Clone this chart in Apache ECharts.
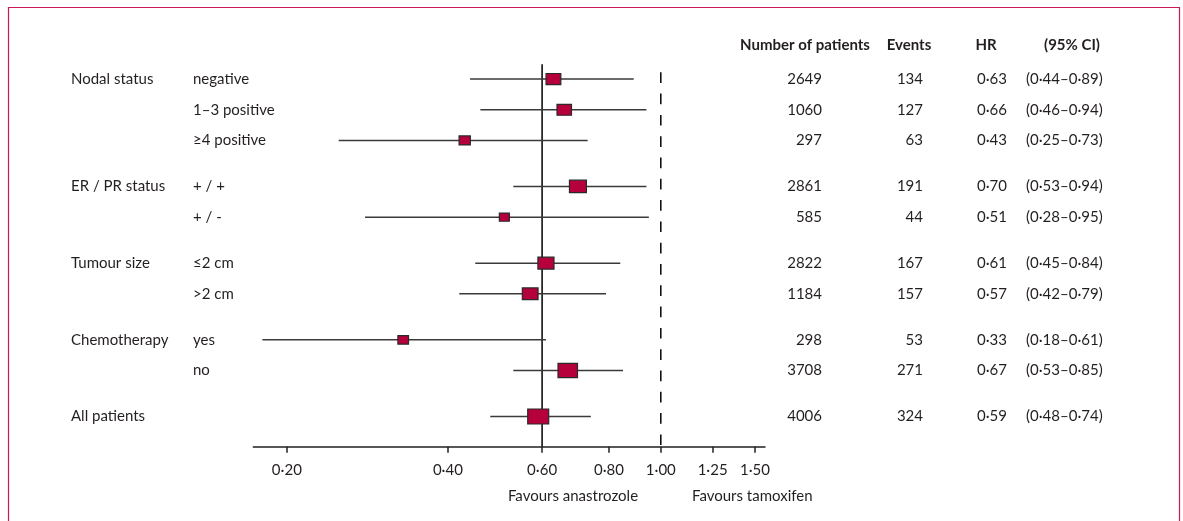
<!DOCTYPE html>
<html>
<head>
<meta charset="utf-8">
<script src="https://cdn.jsdelivr.net/npm/echarts@6/dist/echarts.min.js"></script>
<style>
html,body{margin:0;padding:0;background:#fff;}
#chart{width:1183px;height:521px;}
</style>
</head>
<body>
<div id="chart"></div>
<script>
// ---------- data ----------
const groupNames = ['Nodal status', 'ER / PR status', 'Tumour size', 'Chemotherapy', 'All patients'];
const rowGroup   = [0, 0, 0, 1, 1, 2, 2, 3, 3, 4];
const subgroups  = ['negative', '1–3 positive', '≥4 positive', '+ / +', '+ / -', '≤2 cm', '>2 cm', 'yes', 'no', ''];
const patients   = [2649, 1060, 297, 2861, 585, 2822, 1184, 298, 3708, 4006];
const events     = [134, 127, 63, 191, 44, 167, 157, 53, 271, 324];
const hr         = [0.63, 0.66, 0.43, 0.70, 0.51, 0.61, 0.57, 0.33, 0.67, 0.59];
const ciLow      = [0.44, 0.46, 0.25, 0.53, 0.28, 0.45, 0.42, 0.18, 0.53, 0.48];
const ciHigh     = [0.89, 0.94, 0.73, 0.94, 0.95, 0.84, 0.79, 0.61, 0.85, 0.74];
const tickValues = [0.20, 0.40, 0.60, 0.80, 1.00, 1.25, 1.50];
const tickLabels = ['0·20', '0·40', '0·60', '0·80', '1·00', '1·25', '1·50'];
const headers    = ['Number of patients', 'Events', 'HR', '(95% CI)'];
const footers    = ['Favours anastrozole', 'Favours tamoxifen'];
const solidLineHR  = 0.60;
const dashedLineHR = 1.00;
const axisMinHR = 0.1731, axisMaxHR = 1.566;

// ---------- helpers ----------
const ln = Math.log;
const fmt = v => v.toFixed(2).replace('.', '·');
const TXT = '#231f20';
const FONT = 'Lato, "Noto Sans", sans-serif';
const slotOf = i => i * 2 + rowGroup[i];          // one blank slot between rows, two between groups
const nSlots = slotOf(hr.length - 1) + 1;

const markData = hr.map((v, i) => [ln(ciLow[i]), ln(ciHigh[i]), ln(v), slotOf(i), events[i]]);
const textData = hr.map((v, i) => [0, slotOf(i), i]);

const chart = echarts.init(document.getElementById('chart'), null, {renderer: 'canvas'});

function txt(x, y, text, align, bold) {
  return {type: 'text', x: x, y: y,
    style: {text: text, fill: TXT, font: (bold ? 'bold ' : '') + '15px ' + FONT,
            align: align, verticalAlign: 'middle'}};
}

const option = {
  animation: false,
  backgroundColor: '#fff',
  grid: [
    {left: 253.3, right: 418, top: 71.43, height: 352.75},
    {left: 253.3, right: 418, top: 64.3, bottom: 74.3}
  ],
  xAxis: [
    {gridIndex: 0, type: 'value', min: ln(axisMinHR), max: ln(axisMaxHR), show: false},
    {gridIndex: 1, type: 'value', min: ln(axisMinHR), max: ln(axisMaxHR),
     splitLine: {show: false},
     axisLine: {show: true, lineStyle: {color: TXT, width: 1.5}},
     axisTick: {show: true, customValues: tickValues.map(ln), length: 6, inside: false,
                lineStyle: {color: TXT, width: 1.5}},
     axisLabel: {show: true, customValues: tickValues.map(ln), margin: 16,
                 color: TXT, fontFamily: FONT, fontSize: 15,
                 formatter: function (v) {
                   const k = tickValues.findIndex(t => Math.abs(ln(t) - v) < 1e-6);
                   return k >= 0 ? tickLabels[k] : '';
                 }}}
  ],
  yAxis: [
    {gridIndex: 0, type: 'value', min: -0.5, max: nSlots - 0.5, inverse: true, show: false},
    {gridIndex: 1, type: 'value', min: 0, max: 1, show: false}
  ],
  graphic: [
    {type: 'rect', z: -10, silent: true,
     shape: {x: 8.5, y: 7.5, width: 1171, height: 540},
     style: {fill: 'none', stroke: '#c9185a', lineWidth: 1.2}},
    txt(805, 45, headers[0], 'center', true),
    txt(909, 45, headers[1], 'center', true),
    txt(986, 45, headers[2], 'center', true),
    txt(1072, 45, headers[3], 'center', true),
    txt(573, 496, footers[0], 'center', false),
    txt(692, 496, footers[1], 'left', false)
  ],
  series: [
    {type: 'line', xAxisIndex: 1, yAxisIndex: 1, silent: true, symbol: 'none', z: 1,
     data: [[ln(solidLineHR), 1], [ln(solidLineHR), 0]],
     lineStyle: {color: '#111', width: 1.6}},
    {type: 'line', xAxisIndex: 1, yAxisIndex: 1, silent: true, symbol: 'none', z: 1,
     data: [[ln(dashedLineHR), 1], [ln(dashedLineHR), 0]],
     lineStyle: {color: '#111', width: 1.6, type: [10.7, 10.6], dashOffset: 13.3}},
    {type: 'custom', xAxisIndex: 0, yAxisIndex: 0, silent: true, z: 3, clip: false,
     data: markData,
     encode: {x: [0, 1, 2], y: 3},
     renderItem: function (params, api) {
       const y = api.value(3);
       const a = api.coord([api.value(0), y]);
       const b = api.coord([api.value(1), y]);
       const c = api.coord([api.value(2), y]);
       const w = 3.6 + 0.965 * Math.sqrt(api.value(4));
       const h = 2 + 0.62 * w;
       return {type: 'group', children: [
         {type: 'line', shape: {x1: a[0], y1: a[1], x2: b[0], y2: b[1]},
          style: {stroke: '#3a3a3a', lineWidth: 1.5}},
         {type: 'rect', shape: {x: c[0] - w / 2, y: c[1] - h / 2, width: w, height: h},
          style: {fill: '#b5003b', stroke: '#2a2a2a', lineWidth: 1.2}}
       ]};
     }},
    {type: 'custom', xAxisIndex: 0, yAxisIndex: 0, silent: true, z: 4, clip: false,
     data: textData,
     encode: {y: 1},
     renderItem: function (params, api) {
       const i = api.value(2);
       const y = api.coord([0, api.value(1)])[1];
       const first = i === 0 || rowGroup[i] !== rowGroup[i - 1];
       const ch = [];
       if (first) ch.push(txt(71, y, groupNames[rowGroup[i]], 'left', false));
       ch.push(txt(193, y, subgroups[i], 'left', false));
       ch.push(txt(822, y, String(patients[i]), 'right', false));
       ch.push(txt(923, y, String(events[i]), 'right', false));
       ch.push(txt(977, y, fmt(hr[i]), 'left', false));
       ch.push(txt(1026, y, '(' + fmt(ciLow[i]) + '–' + fmt(ciHigh[i]) + ')', 'left', false));
       return {type: 'group', children: ch};
     }}
  ]
};
chart.setOption(option);
</script>
</body>
</html>
